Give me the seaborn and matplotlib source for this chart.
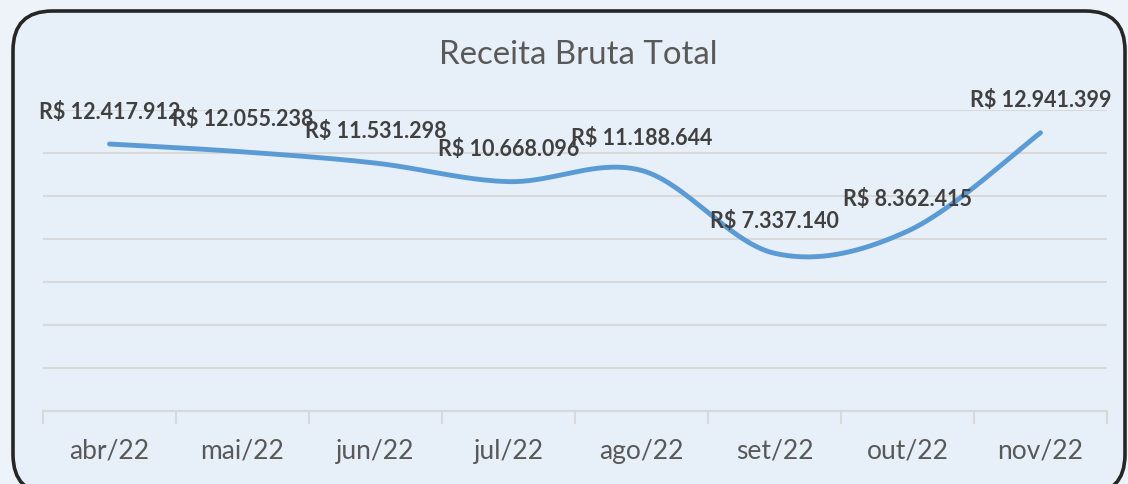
import numpy as np
import pandas as pd
import matplotlib
matplotlib.use("Agg")
import matplotlib.pyplot as plt
from matplotlib.patches import FancyBboxPatch
import seaborn as sns

# ---- data ----
months = ["abr/22", "mai/22", "jun/22", "jul/22", "ago/22", "set/22", "out/22", "nov/22"]
receita = [12417912, 12055238, 11531298, 10668096, 11188644, 7337140, 8362415, 12941399]
labels = ["R$ 12.417.912", "R$ 12.055.238", "R$ 11.531.298", "R$ 10.668.096",
          "R$ 11.188.644", "R$ 7.337.140", "R$ 8.362.415", "R$ 12.941.399"]
title = "Receita Bruta Total"

sns.set_theme(style="white")
plt.rcParams['font.family'] = ['Lato', 'DejaVu Sans']

OUTER_BG = "#eef3fa"
INNER_BG = "#e7eff8"
GRID = "#d9d9d9"
TEXT = "#595959"
LINE = "#5b9bd5"

fig = plt.figure(figsize=(11.28, 4.84), dpi=100, facecolor=OUTER_BG)

# rounded chart frame
W, H = 1128, 484
box = FancyBboxPatch((13 / W, -10 / H), (1125 - 13) / W, (484 - 11 + 10) / H,
                     boxstyle="round,pad=0,rounding_size=0.035",
                     transform=fig.transFigure, facecolor=INNER_BG,
                     edgecolor="#262626", linewidth=2.6, zorder=-5,
                     mutation_aspect=W / H)
fig.patches.append(box)

ax = fig.add_axes([43 / W, 1 - 411 / H, (1107 - 43) / W, (411 - 110) / H])
ax.set_facecolor("none")
ax.set_zorder(2)

# Excel-like smoothing (Catmull-Rom Bezier through the data points)
x = np.arange(len(receita), dtype=float)
y = np.array(receita, dtype=float)
px = np.concatenate([[x[0]], x, [x[-1]]])
py = np.concatenate([[y[0]], y, [y[-1]]])
xs, ys = [], []
for i in range(1, len(px) - 2):
    p0x, p1x, p2x, p3x = px[i - 1], px[i], px[i + 1], px[i + 2]
    p0y, p1y, p2y, p3y = py[i - 1], py[i], py[i + 1], py[i + 2]
    c1x, c1y = p1x + (p2x - p0x) / 6, p1y + (p2y - p0y) / 6
    c2x, c2y = p2x - (p3x - p1x) / 6, p2y - (p3y - p1y) / 6
    t = np.linspace(0, 1, 40)
    bx = (1 - t) ** 3 * p1x + 3 * (1 - t) ** 2 * t * c1x + 3 * (1 - t) * t ** 2 * c2x + t ** 3 * p2x
    by = (1 - t) ** 3 * p1y + 3 * (1 - t) ** 2 * t * c1y + 3 * (1 - t) * t ** 2 * c2y + t ** 3 * p2y
    xs.extend(bx)
    ys.extend(by)
curve = pd.DataFrame({"x": xs, "y": ys})

sns.lineplot(data=curve, x="x", y="y", ax=ax, color=LINE, linewidth=3.5,
             sort=False, estimator=None, solid_capstyle="round", zorder=3)

ax.set_xlim(-0.5, len(months) - 0.5)
ax.set_ylim(0, 14_000_000)
ax.set_yticks(np.arange(0, 14_000_001, 2_000_000))
ax.yaxis.grid(True, color=GRID, linewidth=1.5)
ax.set_yticklabels([])
ax.tick_params(axis="y", length=0)

ax.set_xticks(x)
ax.set_xticklabels(months, color=TEXT, fontsize=19)
ax.set_xticks(np.arange(-0.5, len(months), 1.0), minor=True)
ax.tick_params(axis="x", which="major", bottom=True, length=0, pad=20)
ax.tick_params(axis="x", which="minor", bottom=True, length=9, width=1.5,
               color=GRID, direction="out")
for s in ["top", "right", "left"]:
    ax.spines[s].set_visible(False)
ax.spines["bottom"].set_color(GRID)
ax.spines["bottom"].set_linewidth(1.5)
ax.set_xlabel("")
ax.set_ylabel("")

for xi, yi, lab in zip(x, receita, labels):
    ax.annotate(lab, (xi, yi), xytext=(0, 23), textcoords="offset points",
                ha="center", va="center", fontsize=15.5, fontweight="bold",
                color="#404040", zorder=5)

fig.text(578 / W, 1 - 55 / H, title, ha="center", va="center",
         fontsize=23.8, color=TEXT)

fig.savefig("out.png", dpi=100, facecolor=OUTER_BG)
